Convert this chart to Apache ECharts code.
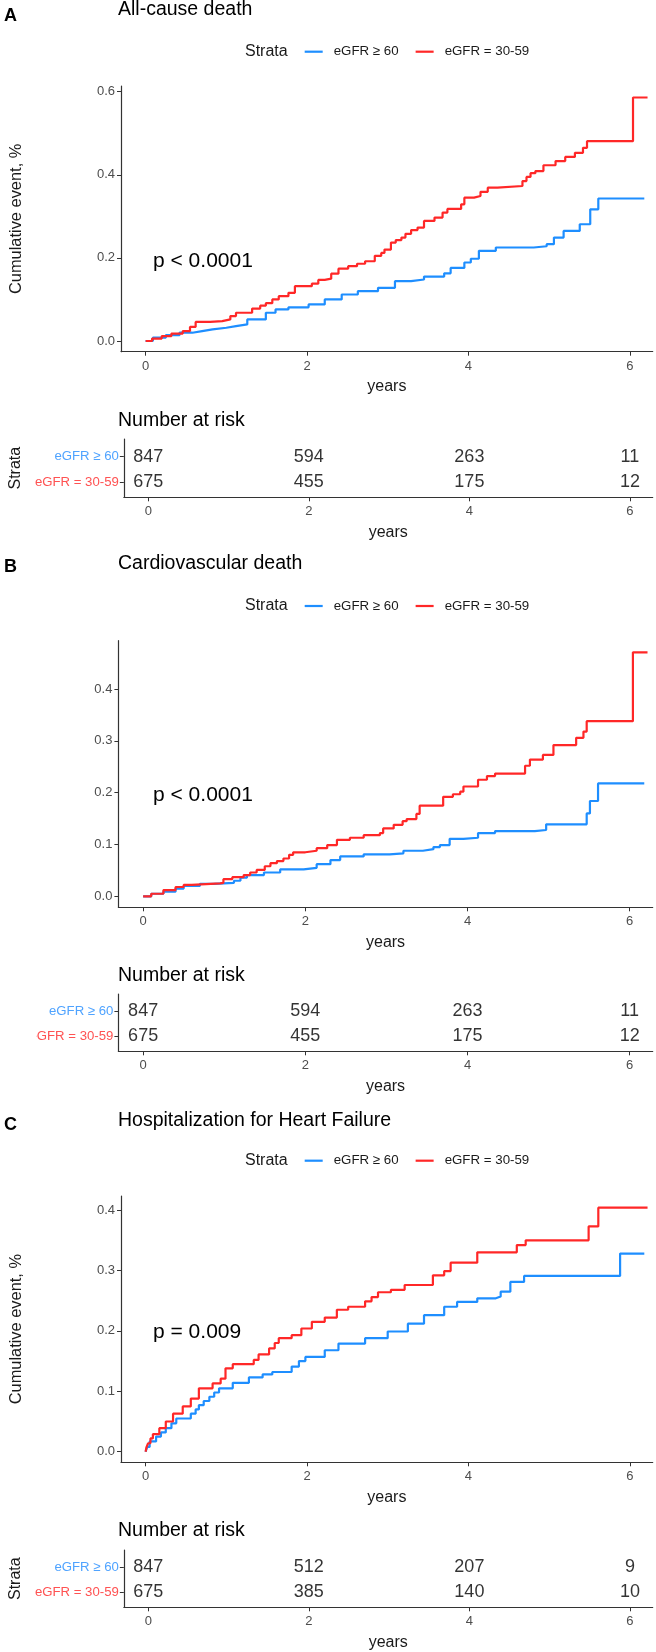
<!DOCTYPE html>
<html><head><meta charset="utf-8">
<script src="https://cdn.jsdelivr.net/npm/echarts@6/dist/echarts.min.js"></script>
<style>html,body{margin:0;padding:0;background:#fff}#c{width:656px;height:1652px}</style>
</head><body><div id="c"></div>
<script>
// ---------- DATA ----------
const strata = ['eGFR ≥ 60', 'eGFR = 30-59'];
const panelLetters = ['A', 'B', 'C'];
const panelTitles = ['All-cause death', 'Cardiovascular death', 'Hospitalization for Heart Failure'];
const pValues = ['p < 0.0001', 'p < 0.0001', 'p = 0.009'];
const xTickValues = [0, 2, 4, 6];
const riskTimes = [0, 2, 4, 6];
const yTicksA = [0, 0.2, 0.4, 0.6];
const yTicksB = [0, 0.1, 0.2, 0.3, 0.4];
const yTicksC = [0, 0.1, 0.2, 0.3, 0.4];

// A: all-cause death (years, cumulative event)
const allCause60 = [[0,0],[0.09,0.008],[0.25,0.014],[0.42,0.02],[0.58,0.024],[0.7,0.028],[0.83,0.032],[1.0,0.036],[1.12,0.04],[1.26,0.052],[1.49,0.068],[1.61,0.076],[1.77,0.081],[2.02,0.088],[2.22,0.1],[2.43,0.112],[2.63,0.12],[2.88,0.128],[3.09,0.144],[3.29,0.148],[3.45,0.155],[3.7,0.163],[3.78,0.176],[3.95,0.189],[4.03,0.198],[4.13,0.217],[4.34,0.225],[4.81,0.228],[4.97,0.233],[5.06,0.249],[5.18,0.265],[5.38,0.281],[5.51,0.317],[5.61,0.343],[6.18,0.343]];
const allCause3059 = [[0,0],[0.08,0.006],[0.2,0.012],[0.32,0.018],[0.46,0.024],[0.55,0.034],[0.62,0.046],[0.8,0.048],[0.95,0.052],[1.05,0.06],[1.12,0.068],[1.32,0.078],[1.42,0.085],[1.49,0.091],[1.57,0.1],[1.65,0.108],[1.77,0.116],[1.85,0.132],[2.06,0.138],[2.14,0.147],[2.22,0.15],[2.3,0.162],[2.39,0.174],[2.51,0.18],[2.62,0.186],[2.72,0.192],[2.84,0.205],[2.92,0.212],[2.96,0.22],[3.04,0.237],[3.1,0.243],[3.17,0.249],[3.22,0.258],[3.29,0.267],[3.37,0.273],[3.45,0.289],[3.58,0.297],[3.68,0.309],[3.74,0.318],[3.91,0.329],[3.95,0.345],[4.07,0.349],[4.15,0.359],[4.24,0.369],[4.36,0.373],[4.67,0.385],[4.72,0.395],[4.77,0.404],[4.83,0.409],[4.93,0.423],[5.08,0.433],[5.2,0.443],[5.32,0.453],[5.42,0.465],[5.47,0.481],[6.04,0.586],[6.22,0.586]];
// B: cardiovascular death
const cvd60 = [[0,0],[0.1,0.005],[0.25,0.009],[0.4,0.015],[0.5,0.02],[0.7,0.024],[0.87,0.026],[1.12,0.03],[1.2,0.036],[1.28,0.041],[1.49,0.046],[1.69,0.052],[1.98,0.055],[2.14,0.062],[2.31,0.07],[2.43,0.077],[2.72,0.081],[3.04,0.083],[3.21,0.088],[3.45,0.091],[3.58,0.095],[3.66,0.099],[3.78,0.111],[3.95,0.113],[4.13,0.122],[4.34,0.126],[4.83,0.128],[4.97,0.139],[5.47,0.16],[5.51,0.184],[5.61,0.218],[6.18,0.218]];
const cvd3059 = [[0,0],[0.1,0.005],[0.25,0.012],[0.4,0.018],[0.5,0.022],[0.6,0.025],[0.95,0.026],[0.99,0.033],[1.1,0.037],[1.24,0.041],[1.32,0.046],[1.4,0.051],[1.5,0.058],[1.57,0.064],[1.65,0.068],[1.73,0.073],[1.8,0.08],[1.85,0.085],[2.0,0.088],[2.14,0.093],[2.27,0.099],[2.39,0.109],[2.55,0.113],[2.72,0.118],[2.92,0.122],[2.96,0.131],[3.09,0.138],[3.2,0.145],[3.25,0.149],[3.37,0.159],[3.41,0.175],[3.7,0.192],[3.82,0.197],[3.91,0.202],[3.95,0.212],[4.13,0.225],[4.24,0.232],[4.34,0.237],[4.71,0.252],[4.77,0.264],[4.93,0.273],[5.06,0.292],[5.34,0.306],[5.43,0.318],[5.47,0.338],[6.04,0.471],[6.22,0.471]];
// C: hospitalization for heart failure
const hhf60 = [[0,0],[0.02,0.008],[0.05,0.017],[0.13,0.025],[0.19,0.032],[0.25,0.039],[0.32,0.047],[0.38,0.055],[0.56,0.063],[0.62,0.07],[0.66,0.077],[0.72,0.084],[0.79,0.091],[0.85,0.098],[0.91,0.105],[1.08,0.114],[1.28,0.123],[1.45,0.128],[1.57,0.132],[1.81,0.141],[1.9,0.15],[1.98,0.157],[2.22,0.168],[2.39,0.179],[2.72,0.188],[3.0,0.199],[3.25,0.212],[3.45,0.226],[3.7,0.24],[3.86,0.248],[4.11,0.254],[4.34,0.257],[4.4,0.265],[4.52,0.281],[4.69,0.291],[5.88,0.328],[6.18,0.328]];
const hhf3059 = [[0,0],[0.01,0.007],[0.03,0.014],[0.06,0.022],[0.09,0.029],[0.17,0.039],[0.25,0.05],[0.34,0.063],[0.46,0.075],[0.56,0.088],[0.66,0.105],[0.83,0.113],[0.93,0.121],[0.99,0.138],[1.08,0.145],[1.34,0.152],[1.4,0.161],[1.53,0.171],[1.6,0.18],[1.65,0.188],[1.81,0.193],[1.93,0.204],[2.06,0.215],[2.22,0.222],[2.37,0.235],[2.51,0.24],[2.72,0.249],[2.8,0.256],[2.88,0.264],[3.04,0.268],[3.21,0.276],[3.56,0.292],[3.7,0.299],[3.78,0.313],[4.11,0.33],[4.6,0.342],[4.71,0.35],[5.49,0.373],[5.61,0.404],[6.22,0.404]];

// Number at risk
const riskA60 = [847, 594, 263, 11];
const riskA3059 = [675, 455, 175, 12];
const riskB60 = [847, 594, 263, 11];
const riskB3059 = [675, 455, 175, 12];
const riskC60 = [847, 512, 207, 9];
const riskC3059 = [675, 385, 140, 10];

// ---------- STYLE / LAYOUT ----------
const FONT = "'Liberation Sans', Arial, sans-serif";
const BLUE = '#1E8EFF', RED = '#FF2727';
const BLUE_L = '#4FA3FF', RED_L = '#FF5252';
const AXIS = '#333333', TICKTXT = '#4D4D4D';
const X_MIN = -0.305, X_MAX = 6.284;
const GL = 118.4, GW = 534.3;

const panels = [
  { curves: [allCause60, allCause3059], risk: [riskA60, riskA3059], yTicks: yTicksA,
    yMin: -0.0257, yMax: 0.6137, top: 86, h: 265.7, rTop: 439, rH: 58.3,
    letterY: 16, titleY: 10, legendY: 51.7, pY: 261, nrY: 420.7, yName: true, strataName: true },
  { curves: [cvd60, cvd3059], risk: [riskB60, riskB3059], yTicks: yTicksB,
    yMin: -0.0212, yMax: 0.4934, top: 640.7, h: 266.6, rTop: 994, rH: 57.3,
    letterY: 567, titleY: 564, legendY: 606, pY: 795.5, nrY: 976, yName: false, strataName: false },
  { curves: [hhf60, hhf3059], risk: [riskC60, riskC3059], yTicks: yTicksC,
    yMin: -0.0175, yMax: 0.4233, top: 1196, h: 266.3, rTop: 1550, rH: 57.3,
    letterY: 1125, titleY: 1120.7, legendY: 1160.7, pY: 1332.5, nrY: 1530.7, yName: true, strataName: true }
];

const grid = [], xAxis = [], yAxis = [], series = [], legend = [], graphic = [];

function xAx(gi) {
  return {
    type: 'value', gridIndex: gi, min: X_MIN, max: X_MAX,
    name: 'years', nameLocation: 'middle', nameGap: 27,
    nameTextStyle: { fontFamily: FONT, fontSize: 16, color: '#1a1a1a' },
    axisLine: { onZero: false, lineStyle: { color: AXIS, width: 1.2 } },
    axisTick: { show: true, length: 4, customValues: xTickValues, lineStyle: { color: AXIS, width: 1 } },
    axisLabel: { customValues: xTickValues, margin: 8, fontFamily: FONT, fontSize: 13, color: TICKTXT },
    splitLine: { show: false }
  };
}

panels.forEach((p, i) => {
  const gMain = 2 * i, gRisk = 2 * i + 1;
  grid.push({ left: GL, width: GW, top: p.top, height: p.h, containLabel: false });
  grid.push({ left: GL, width: GW, top: p.rTop, height: p.rH, containLabel: false });
  xAxis.push(xAx(gMain));
  xAxis.push(xAx(gRisk));
  yAxis.push({
    type: 'value', gridIndex: gMain, min: p.yMin, max: p.yMax,
    name: p.yName ? 'Cumulative event, %' : '', nameLocation: 'middle', nameRotate: 90, nameGap: 97,
    nameTextStyle: { fontFamily: FONT, fontSize: 16.4, color: '#1a1a1a' },
    axisLine: { show: true, onZero: false, lineStyle: { color: AXIS, width: 1.2 } },
    axisTick: { show: true, length: 4, customValues: p.yTicks, lineStyle: { color: AXIS, width: 1 } },
    axisLabel: { customValues: p.yTicks, margin: 6, fontFamily: FONT, fontSize: 13, color: TICKTXT,
                 formatter: v => Number(v).toFixed(1) },
    splitLine: { show: false }
  });
  yAxis.push({
    type: 'value', gridIndex: gRisk, min: 0.4, max: 2.7,
    name: p.strataName ? 'Strata' : '', nameLocation: 'middle', nameRotate: 90, nameGap: 95,
    nameTextStyle: { fontFamily: FONT, fontSize: 16, color: '#1a1a1a' },
    axisLine: { show: true, onZero: false, lineStyle: { color: AXIS, width: 1.2 } },
    axisTick: { show: true, length: 4, customValues: [1, 2], lineStyle: { color: AXIS, width: 1 } },
    axisLabel: { customValues: [1, 2], margin: 5, fontFamily: FONT, fontSize: 13.2,
                 formatter: v => (Number(v) === 2 ? strata[0] : strata[1]),
                 color: v => (Number(v) === 2 ? BLUE_L : RED_L) },
    splitLine: { show: false }
  });
  // curves
  [0, 1].forEach(k => {
    series.push({
      type: 'line', name: strata[k], xAxisIndex: gMain, yAxisIndex: gMain,
      data: p.curves[k], step: 'end', showSymbol: false, symbol: 'none',
      color: k === 0 ? BLUE : RED,
      lineStyle: { width: 2.2, color: k === 0 ? BLUE : RED }, z: k === 0 ? 2 : 3
    });
  });
  // risk table numbers
  const rdata = [];
  riskTimes.forEach((t, j) => { rdata.push([t, 2, p.risk[0][j]]); rdata.push([t, 1, p.risk[1][j]]); });
  series.push({
    type: 'scatter', name: 'risk' + i, xAxisIndex: gRisk, yAxisIndex: gRisk,
    data: rdata, symbolSize: 1, itemStyle: { color: 'rgba(0,0,0,0)' }, silent: true,
    label: { show: true, position: 'inside', formatter: q => String(q.value[2]),
             fontFamily: FONT, fontSize: 18, color: '#000' }
  });
  legend.push({
    left: 245, top: p.legendY - 8, padding: 0, itemGap: 17,
    icon: 'rect', itemWidth: 18, itemHeight: 2.2,
    data: [
      { name: 'Strata', icon: 'none', textStyle: { fontSize: 16, padding: [0, 0, 0, -23] } },
      { name: strata[0] }, { name: strata[1] }
    ],
    selectedMode: false,
    textStyle: { fontFamily: FONT, fontSize: 13.3, color: '#1a1a1a', lineHeight: 16, padding: [0, 0, 0, 6] }
  });
  graphic.push({ type: 'text', x: 4, y: p.letterY, style: { text: panelLetters[i], fontFamily: FONT, fontSize: 18, fontWeight: 'bold', fill: '#000', verticalAlign: 'middle' } });
  graphic.push({ type: 'text', x: 118, y: p.titleY, style: { text: panelTitles[i], fontFamily: FONT, fontSize: 19.5, fill: '#000', verticalAlign: 'middle' } });
  graphic.push({ type: 'text', x: 153, y: p.pY, style: { text: pValues[i], fontFamily: FONT, fontSize: 21, fill: '#000', verticalAlign: 'middle' } });
  graphic.push({ type: 'text', x: 118, y: p.nrY, style: { text: 'Number at risk', fontFamily: FONT, fontSize: 19.5, fill: '#000', verticalAlign: 'middle' } });
});
// dummy series so that "Strata" can appear as a legend heading
series.push({ type: 'line', name: 'Strata', xAxisIndex: 0, yAxisIndex: 0, data: [], color: 'rgba(0,0,0,0)' });
// panel B: the red stratum label is cut off at its left end in the original figure
graphic.push({ type: 'rect', z: 100, shape: { x: 0, y: 1026, width: 36, height: 21 }, style: { fill: '#fff' } });

const chart = echarts.init(document.getElementById('c'), null, { renderer: 'canvas' });
chart.setOption({ animation: false, backgroundColor: '#fff', grid, xAxis, yAxis, series, legend, graphic });
</script></body></html>
